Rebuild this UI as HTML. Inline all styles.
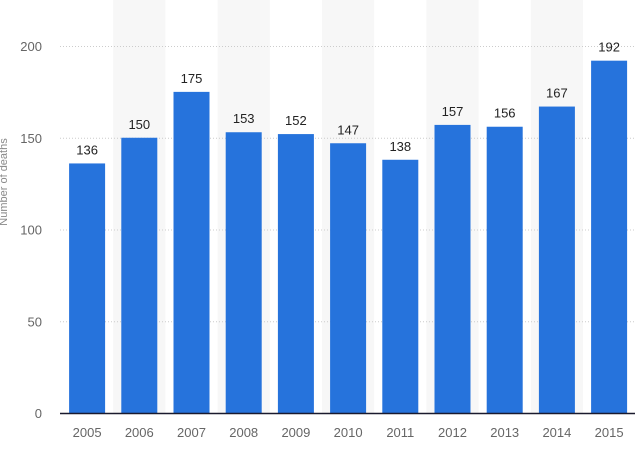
<!DOCTYPE html>
<html><head><meta charset="utf-8"><style>
body{margin:0;background:#fff;width:640px;height:453px;overflow:hidden;font-family:"Liberation Sans",sans-serif}
</style></head><body>
<svg id="chart" width="640" height="453" xmlns="http://www.w3.org/2000/svg">
<g id="bg"></g><g id="grid"></g><g id="bars"></g><g id="labels"></g><g id="xt"></g><g id="yt"></g>
<line x1="60" x2="635" y1="413.5" y2="413.5" stroke="#1a1a2e" stroke-width="1.5"/>
<text transform="translate(7,182) rotate(-90)" text-anchor="middle" font-size="11" fill="#888">Number of deaths</text>
</svg>
<script>
const categories=["2005","2006","2007","2008","2009","2010","2011","2012","2013","2014","2015"];
const values=[136,150,175,153,152,147,138,157,156,167,192];
const yTicks=[0,50,100,150,200];
const NS="http://www.w3.org/2000/svg";
const x0=61,step=52.2,bw=36,y0=413,yTop=46,ymax=200;
function xc(i){return x0+step*i+step/2;}
function y(v){return y0-(v/ymax)*(y0-yTop);}
function mk(tag,a,parent){const e=document.createElementNS(NS,tag);for(const k in a)e.setAttribute(k,a[k]);document.getElementById(parent).appendChild(e);return e;}
categories.forEach((c,i)=>{
 if(i%2===1){const r=mk('rect',{x:xc(i)-step/2,y:0,width:step,height:y0,fill:'#f7f7f7'},'bg');
 
 }
});
yTicks.forEach(t=>{
 if(t>0){const l=mk('line',{x1:60,x2:635,y1:y(t)+0.5,y2:y(t)+0.5,stroke:'#ccc','stroke-dasharray':'1,2'},'grid');
 
 }
 const tx=mk('text',{x:42,y:y(t)+5,'text-anchor':'end','font-size':'13',fill:'#666'},'yt');
 tx.textContent=t;
 
 
});
categories.forEach((c,i)=>{
 const v=values[i];
 const b=mk('rect',{x:xc(i)-bw/2,y:y(v),width:bw,height:y0-y(v),fill:'#2673dc'},'bars');
 
 
 const l=mk('text',{x:xc(i),y:y(v)-9,'text-anchor':'middle','font-size':'13',fill:'#222'},'labels');
 l.textContent=v;
 
 
 const t=mk('text',{x:xc(i),y:437,'text-anchor':'middle','font-size':'13',fill:'#666'},'xt');
 t.textContent=c;
 
 
});
</script>
</body></html>
